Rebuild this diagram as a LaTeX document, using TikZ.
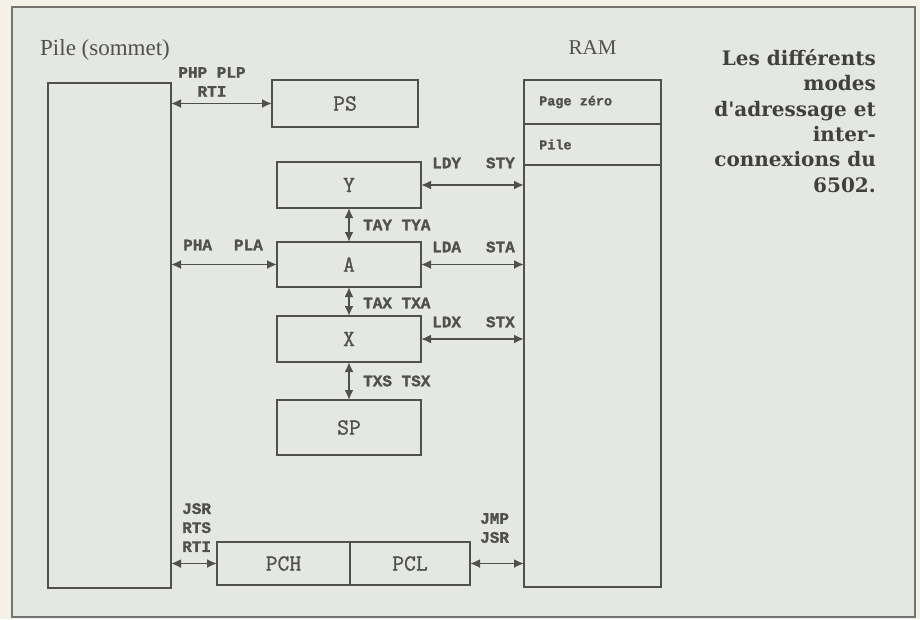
\documentclass[tikz,border=0pt]{standalone}
\usepackage{fontspec}
\usetikzlibrary{arrows.meta,positioning}
\newfontfamily\regfont{Latin Modern Mono}[FakeBold=1]
\newfontfamily\opfont{Liberation Mono Bold}[FakeBold=1.4]
\newfontfamily\titlefont{Liberation Serif}
\newfontfamily\capfont{DejaVu Serif Bold}
\definecolor{paper}{HTML}{F4F2E6}
\definecolor{panel}{HTML}{E5E8E2}
\definecolor{ink}{HTML}{505050}

\begin{document}
\begin{tikzpicture}[x=1pt,y=-1pt,
    reg/.style={draw=ink,line width=1.6pt,text=ink,inner sep=0pt,outer sep=0pt,font=\regfont\fontsize{23}{25}\selectfont},
    op/.style={text=ink,inner sep=0pt,align=left,font=\opfont\fontsize{16}{19}\selectfont},
    link/.style={draw=ink,line width=1.8pt,{Latex[length=10pt,width=9pt]}-{Latex[length=10pt,width=9pt]}}]
    \useasboundingbox (0,0) rectangle (920,619);
    \fill[paper] (0,0) rectangle (920,619);
    \draw[fill=panel,draw=ink!80,line width=1.2pt] (12,7) rectangle (915,617);

    % pile et registres
    \node[reg,minimum width=123pt,minimum height=505pt] (pile) at (109.5,335.5) {};
    \node[text=ink,inner sep=0pt,anchor=west,font=\titlefont\fontsize{23}{26}\selectfont] (ptitle) at (40,50) {Pile (sommet)};
    \node[reg,minimum width=146pt,minimum height=47pt] (ps) at (345,103.5) {PS};
    \node[reg,minimum width=144pt,minimum height=46pt] (ry) at (349,185) {Y};
    \node[reg,minimum width=144pt,minimum height=45pt] (ra) at (349,264.5) {A};
    \node[reg,minimum width=144pt,minimum height=46pt] (rx) at (349,339) {X};
    \node[reg,minimum width=144pt,minimum height=55pt] (sp) at (349,427.5) {SP};
    \node[reg,minimum width=133pt,minimum height=43pt] (pch) at (283.5,563.5) {PCH};
    \node[reg,minimum width=120pt,minimum height=43pt,right=0pt of pch] (pcl) {PCL};

    % RAM
    \node[reg,minimum width=137pt,minimum height=44pt,anchor=north west] (zp) at (524,80) {};
    \node[reg,minimum width=137pt,minimum height=41pt,below=0pt of zp] (stk) {};
    \node[reg,minimum width=137pt,minimum height=422pt,below=0pt of stk] (ram) {};
    \node[op,font=\opfont\fontsize{13.5}{16}\selectfont,right=15pt of zp.west] (zptxt) {Page zéro};
    \node[op,font=\opfont\fontsize{13.5}{16}\selectfont,right=15pt of stk.west] (stktxt) {Pile};
    \node[text=ink,inner sep=0pt,font=\titlefont\fontsize{21}{23}\selectfont,above=25pt of zp] (ramtitle) {RAM};

    % liaisons
    \draw[link] (pile.east |- ps) -- (ps.west);
    \draw[link] (pile.east |- ra) -- (ra.west);
    \draw[link] (pile.east |- pch) -- (pch.west);
    \draw[link] (ry.east) -- (ram.west |- ry);
    \draw[link] (ra.east) -- (ram.west |- ra);
    \draw[link] (rx.east) -- (ram.west |- rx);
    \draw[link] (pcl.east) -- (ram.west |- pcl);
    \draw[link] (ry.south) -- (ra.north);
    \draw[link] (ra.south) -- (rx.north);
    \draw[link] (rx.south) -- (sp.north);

    % instructions
    \node[op,align=center,anchor=north] (l1) at (212,67) {PHP PLP\\RTI};
    \node[op,anchor=west] (l2) at (183,245) {PHA\hspace{22pt}PLA};
    \node[op,anchor=west] (l3) at (363,225) {TAY TYA};
    \node[op,anchor=west] (l4) at (363,303) {TAX TXA};
    \node[op,anchor=west] (l5) at (363,381) {TXS TSX};
    \node[op,anchor=west] (l6) at (432,163) {LDY\hspace{25pt}STY};
    \node[op,anchor=west] (l7) at (432,247) {LDA\hspace{25pt}STA};
    \node[op,anchor=west] (l8) at (432,322) {LDX\hspace{25pt}STX};
    \node[op,anchor=north west] (l9) at (182,503) {JSR\\RTS\\RTI};
    \node[op,anchor=north west] (l10) at (480,513) {JMP\\JSR};

    % legende
    \node[text=ink!80!black,inner sep=0pt,anchor=north east,align=right,font=\capfont\fontsize{20}{25.4}\selectfont] (cap) at (876,49) {Les différents\\modes\\d'adressage et\\inter-\\connexions du\\6502.};
\end{tikzpicture}
\end{document}
